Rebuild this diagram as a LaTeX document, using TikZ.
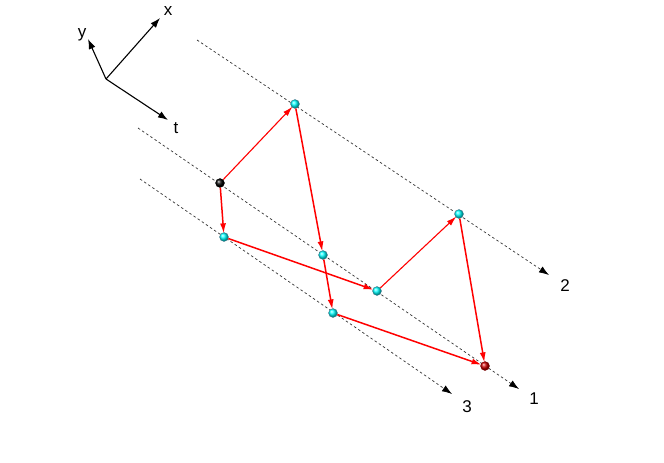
\documentclass[tikz,border=0pt]{standalone}
\usepackage{fontspec}
\setmainfont{Liberation Sans}
\usetikzlibrary{arrows.meta}
\begin{document}
\begin{tikzpicture}[x=1pt,y=-1pt,
  lbl/.style={font=\fontsize{17}{19}\selectfont, inner sep=0pt},
  axis/.style={black, line width=1.1pt, -{Latex[length=10pt,width=7pt]}},
  world/.style={black!80, dash pattern=on 2.5pt off 2.5pt, line width=0.7pt, -{Latex[length=10pt,width=7pt,black]}},
  ev/.style={circle, inner sep=0pt, minimum size=9pt, shading=ball, ball color=cyan, draw=cyan!50!black, line width=0.3pt},
  evstart/.style={ev, ball color=black, draw=black},
  evend/.style={ev, ball color=red!80!black, draw=red!50!black},
  link/.style={red, line width=1.5pt, -{Latex[length=10pt,width=6pt]}, shorten >=-1pt},
  thinlink/.style={link, line width=1.1pt}]
\useasboundingbox (0,0) rectangle (664,463);
% axes
\coordinate (o) at (106,79);
\coordinate (xe) at (160,18);
\coordinate (ye) at (88,39);
\coordinate (te) at (168,120);
\draw[axis] (o) -- (xe);
\draw[axis] (o) -- (ye);
\draw[axis] (o) -- (te);
\node[lbl] (xl) at (168,11) {x};
\node[lbl] (yl) at (82,35) {y};
\node[lbl] (tl) at (176,128) {t};
% world lines
\coordinate (w2a) at (197,40);
\coordinate (w2b) at (549,275);
\coordinate (w1a) at (138,128);
\coordinate (w1b) at (519,389);
\coordinate (w3a) at (140,179);
\coordinate (w3b) at (452,394);
\draw[world] (w2a) -- (w2b);
\draw[world] (w1a) -- (w1b);
\draw[world] (w3a) -- (w3b);
\node[lbl] (l2) at (565,286) {2};
\node[lbl] (l1) at (534,399) {1};
\node[lbl] (l3) at (467,407) {3};
% events
\node[evstart] (s) at (220,183) {};
\node[ev] (a) at (295,104) {};
\node[ev] (b) at (224,237) {};
\node[ev] (c) at (323,255) {};
\node[ev] (d) at (377,291) {};
\node[ev] (e) at (459,214) {};
\node[ev] (f) at (333,313) {};
\node[evend] (g) at (485,366) {};
% links
\draw[thinlink] (s) -- (a);
\draw[link] (s) -- (b);
\draw[link] (a) -- (c);
\draw[link] (c) -- (f);
\draw[link] (b) -- (d);
\draw[thinlink] (d) -- (e);
\draw[link] (e) -- (g);
\draw[link] (f) -- (g);
\end{tikzpicture}
\end{document}
